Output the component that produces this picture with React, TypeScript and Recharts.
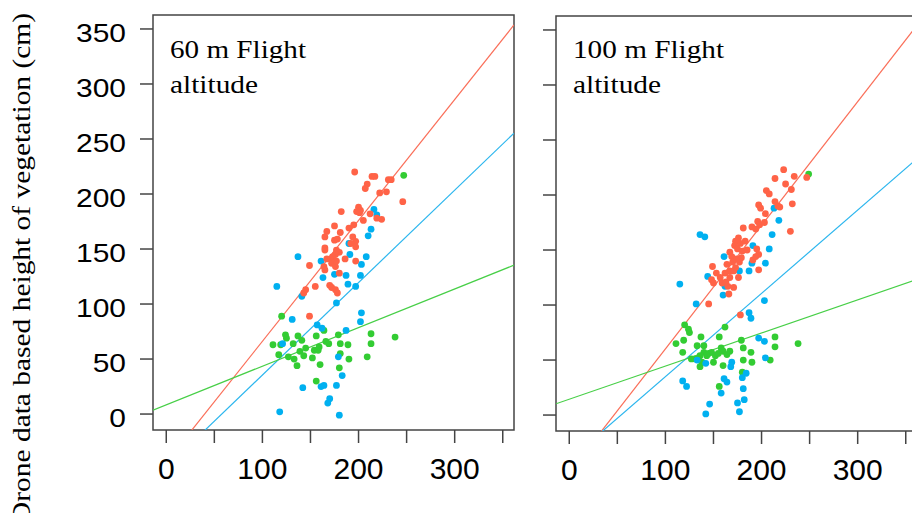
import React from 'react';
import { ScatterChart, Scatter, XAxis, YAxis, ReferenceLine, ReferenceArea } from 'recharts';

// ---- axes ----
const xTicks = [0, 50, 100, 150, 200, 250, 300, 350];
const xTickLabels = ['0', '', '100', '', '200', '', '300', ''];
const yTicks = [0, 50, 100, 150, 200, 250, 300, 350];
const yTickLabels = ['0', '50', '100', '150', '200', '250', '300', '350'];
const xDomain = [-13.8, 361.7];
const yDomain = [-14.5, 362.7];

const yAxisTitle = 'Drone data based height of vegetation (cm)';
const panelTitles60 = ['60 m Flight', 'altitude'];
const panelTitles100 = ['100 m Flight', 'altitude'];

// ---- 60 m panel data [field height, drone height] ----
const red60 = [
  [196, 220], [214, 216], [217, 216], [231, 213], [234, 213], [209, 209], [207, 205], [222, 201], [229, 202],
  [246, 193], [182, 184], [200, 188], [202, 185], [198, 184], [201, 183], [212, 182], [219, 178], [224, 177],
  [205, 176], [175, 171], [190, 169], [195, 172], [167, 166], [165, 161], [181, 165], [175, 158], [178, 159],
  [194, 161], [197, 157], [192, 155], [197, 152], [165, 151], [165, 149], [177, 149], [180, 147], [176, 145],
  [173, 143], [171, 141], [167, 141], [186, 141], [197, 139], [172, 137], [176, 134], [177, 139], [164, 134],
  [165, 131], [149, 135], [180, 128], [170, 117], [172, 115], [155, 116], [145, 113], [143, 110], [176, 113],
  [178, 110], [149, 89],
];
const blue60 = [
  [216, 186], [219, 181], [213, 168], [210, 162], [190, 155], [191, 145], [137, 143], [161, 139], [208, 143],
  [203, 136], [163, 124], [175, 127], [187, 126], [202, 126], [189, 118], [197, 116], [115, 116], [141, 107],
  [177, 101], [203, 92], [202, 84], [131, 86], [157, 81], [162, 78], [187, 76], [121, 64], [179, 52], [183, 35],
  [142, 24], [161, 25], [164, 26], [177, 26], [170, 14], [168, 10], [118, 2], [180, -1],
];
const green60 = [
  [120, 89], [124, 72], [125, 69], [111, 63], [119, 63], [132, 64], [137, 71], [141, 67], [156, 71], [164, 76],
  [166, 66], [169, 64], [179, 72], [181, 64], [189, 63], [213, 73], [213, 64], [238, 70], [117, 54], [127, 52],
  [133, 50], [136, 44], [139, 57], [143, 53], [145, 60], [152, 51], [154, 58], [158, 58], [159, 61], [160, 45],
  [181, 55], [190, 50], [209, 52], [180, 42], [156, 30], [247, 217],
];
// regression lines: [red, blue, green]
const intercepts60 = [-43.8, -48.5, 8.4];
const slopes60 = [1.099, 0.84, 0.351];

// ---- 100 m panel data ----
const red100 = [
  [223, 223], [214, 215], [234, 217], [247, 216], [225, 210], [231, 205], [205, 204], [208, 201], [214, 194],
  [197, 191], [199, 188], [217, 190], [219, 189], [232, 192], [204, 183], [196, 176], [198, 173], [203, 175],
  [190, 171], [194, 169], [181, 170], [230, 167], [176, 161], [173, 158], [178, 156], [183, 158], [172, 154],
  [175, 151], [180, 149], [185, 150], [167, 148], [169, 144], [195, 151], [197, 146], [174, 142], [179, 143],
  [177, 139], [191, 141], [194, 144], [164, 137], [170, 139], [149, 135], [173, 134], [171, 131], [167, 131],
  [162, 129], [153, 129], [157, 125], [167, 125], [176, 125], [197, 132], [148, 123], [150, 120], [159, 120],
  [163, 121], [165, 117], [171, 116], [166, 110], [145, 101], [178, 91],
];
const blue100 = [
  [136, 164], [141, 162], [213, 188], [218, 177], [211, 164], [191, 154], [208, 151], [161, 144], [190, 138],
  [204, 138], [187, 131], [177, 131], [144, 126], [115, 119], [162, 117], [160, 109], [132, 101], [203, 104],
  [187, 93], [189, 88], [197, 70], [203, 67], [133, 50], [142, 47], [169, 48], [168, 44], [204, 52], [184, 38],
  [180, 34], [118, 31], [122, 26], [161, 33], [164, 30], [158, 20], [181, 24], [182, 14], [175, 11], [146, 10],
  [177, 3], [142, 1],
];
const green100 = [
  [120, 82], [124, 78], [125, 75], [162, 80], [111, 65], [119, 68], [137, 71], [156, 71], [133, 63], [140, 63],
  [118, 57], [179, 68], [214, 71], [214, 62], [238, 65], [181, 61], [189, 57], [158, 61], [160, 58], [167, 58],
  [164, 55], [140, 57], [145, 56], [148, 57], [152, 54], [155, 56], [143, 54], [136, 54], [131, 51], [127, 51],
  [134, 51], [138, 48], [150, 48], [160, 45], [136, 44], [181, 50], [190, 48], [209, 50], [180, 39], [156, 26],
  [249, 219],
];
const intercepts100 = [-52.3, -40.8, 14.4];
const slopes100 = [1.124, 0.757, 0.301];

// ---- styles ----
const dotColors = { red: '#FF6347', blue: '#00B0F0', green: '#33CC33' };
const lineColors = ['#FA6E58', '#2CB6EE', '#47CF47'];
const sansFont = "'Liberation Sans', Arial, sans-serif";
const serifFont = "'Liberation Serif', 'Times New Roman', serif";

const toPts = (arr: number[][]) => arr.map(([x, y]) => ({ x, y }));

const makeDot = (color: string) => (props: any) => {
  const { cx, cy } = props;
  if (cx == null || cy == null) return <g />;
  return <circle cx={cx} cy={cy} r={3.4} fill={color} />;
};

const XTick = (props: any) => {
  const { x, y, payload } = props;
  const idx = xTicks.indexOf(payload.value);
  const label = idx >= 0 ? xTickLabels[idx] : '';
  return (
    <text x={x} y={y + 34} textAnchor="middle" fontSize={30} fontFamily={sansFont} fill="#000">
      {label}
    </text>
  );
};

const YTick = (props: any) => {
  const { x, y, payload } = props;
  const idx = yTicks.indexOf(payload.value);
  const label = idx >= 0 ? yTickLabels[idx] : '';
  return (
    <text
      transform={`translate(${x - 12},${y + 13}) scale(1.17,1)`}
      textAnchor="end"
      fontSize={25.6}
      fontFamily={sansFont}
      fill="#000"
    >
      {label}
    </text>
  );
};

const EmptyTick = () => <g />;

function Panel(props: {
  left: number;
  top: number;
  red: number[][];
  blue: number[][];
  green: number[][];
  intercepts: number[];
  slopes: number[];
  showYLabels: boolean;
}) {
  const { left, top, red, blue, green, intercepts, slopes, showYLabels } = props;
  return (
    <div style={{ position: 'absolute', left, top }}>
      <ScatterChart width={540} height={513} margin={{ top: 15, right: 26, bottom: 0, left: 0 }}>
        <XAxis
          type="number"
          dataKey="x"
          domain={xDomain}
          ticks={xTicks}
          interval={0}
          allowDataOverflow
          axisLine={false}
          tickSize={13}
          tickLine={{ stroke: '#444', strokeWidth: 1.5 }}
          tick={(p: any) => <XTick {...p} />}
          height={83}
        />
        <YAxis
          type="number"
          dataKey="y"
          domain={yDomain}
          ticks={yTicks}
          interval={0}
          allowDataOverflow
          axisLine={false}
          tickSize={13}
          tickLine={{ stroke: '#444', strokeWidth: 1.5 }}
          tick={showYLabels ? (p: any) => <YTick {...p} /> : (p: any) => <EmptyTick />}
          width={153}
        />
        <ReferenceArea
          x1={xDomain[0]}
          x2={xDomain[1]}
          y1={yDomain[0]}
          y2={yDomain[1]}
          fill="none"
          fillOpacity={0}
          stroke="#444"
          strokeWidth={1.5}
          ifOverflow="visible"
        />
        <Scatter data={toPts(green)} fill={dotColors.green} shape={makeDot(dotColors.green)} isAnimationActive={false} />
        <Scatter data={toPts(blue)} fill={dotColors.blue} shape={makeDot(dotColors.blue)} isAnimationActive={false} />
        <Scatter data={toPts(red)} fill={dotColors.red} shape={makeDot(dotColors.red)} isAnimationActive={false} />
        {intercepts.map((b, i) => (
          <ReferenceLine
            key={i}
            segment={[
              { x: xDomain[0], y: b + slopes[i] * xDomain[0] },
              { x: xDomain[1], y: b + slopes[i] * xDomain[1] },
            ]}
            stroke={lineColors[i]}
            strokeWidth={1.2}
            ifOverflow="hidden"
          />
        ))}
      </ScatterChart>
    </div>
  );
}

export default function App() {
  return (
    <div
      style={{
        position: 'absolute',
        left: 0,
        top: 0,
        width: 912,
        height: 513,
        overflow: 'hidden',
        background: '#fff',
      }}
    >
      <Panel left={0} top={0} red={red60} blue={blue60} green={green60} intercepts={intercepts60} slopes={slopes60} showYLabels />
      <Panel left={403} top={1} red={red100} blue={blue100} green={green100} intercepts={intercepts100} slopes={slopes100} showYLabels={false} />
      <svg width={912} height={513} style={{ position: 'absolute', left: 0, top: 0, pointerEvents: 'none' }}>
        <text
          transform="translate(30,268) rotate(-90)"
          textAnchor="middle"
          fontSize={25}
          fontFamily={serifFont}
          textLength={510}
          lengthAdjust="spacingAndGlyphs"
          fill="#000"
        >
          {yAxisTitle}
        </text>
        <text x={170} y={58} fontSize={25} fontFamily={serifFont} textLength={136} lengthAdjust="spacingAndGlyphs" fill="#000">
          {panelTitles60[0]}
        </text>
        <text x={170} y={93} fontSize={25} fontFamily={serifFont} textLength={88} lengthAdjust="spacingAndGlyphs" fill="#000">
          {panelTitles60[1]}
        </text>
        <text x={573} y={58} fontSize={25} fontFamily={serifFont} textLength={151} lengthAdjust="spacingAndGlyphs" fill="#000">
          {panelTitles100[0]}
        </text>
        <text x={573} y={93} fontSize={25} fontFamily={serifFont} textLength={88} lengthAdjust="spacingAndGlyphs" fill="#000">
          {panelTitles100[1]}
        </text>
      </svg>
    </div>
  );
}
